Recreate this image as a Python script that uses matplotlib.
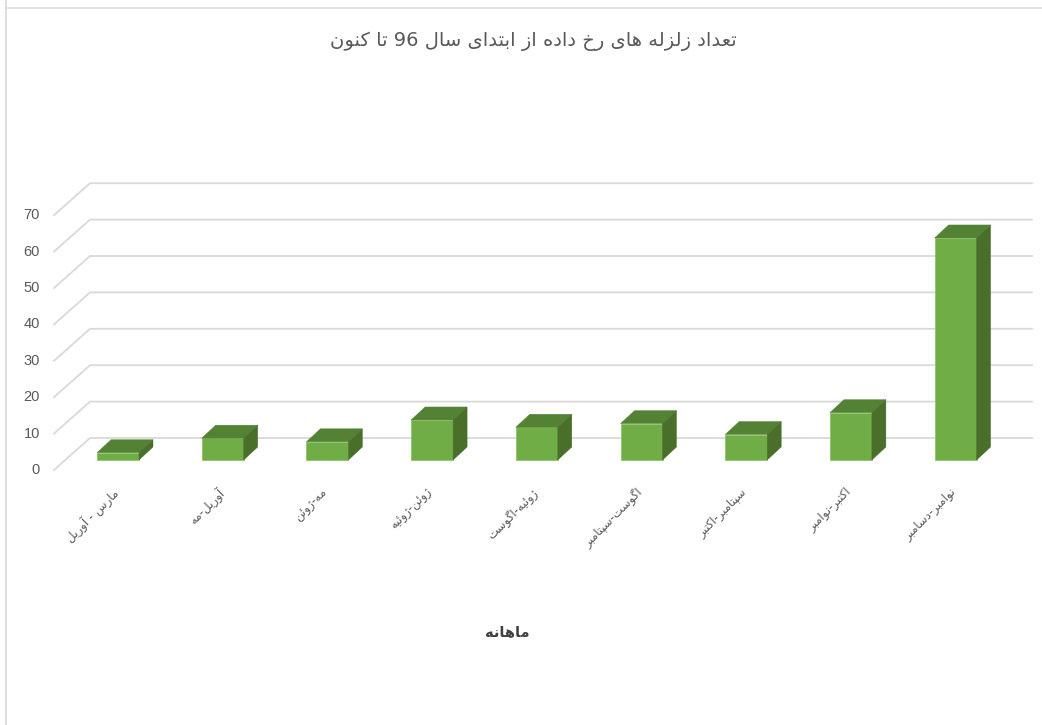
import matplotlib
matplotlib.use('Agg')
import matplotlib.pyplot as plt
from matplotlib.patches import Polygon
import re

title = 'تعداد زلزله های رخ داده از ابتدای سال 96 تا کنون'
xlabel = 'ماهانه'
months = ['مارس - آوریل', 'آوریل-مه', 'مه-ژوئن', 'ژوئن-ژوئیه', 'ژوئیه-اگوست',
          'اگوست-سپتامبر', 'سپتامبر-اکتبر', 'اکتبر-نوامبر', 'نوامبر-دسامبر']
counts = [2, 6, 5, 11, 9, 10, 7, 13, 61]
yticks = [0, 10, 20, 30, 40, 50, 60, 70]

# isolated, final, initial, medial
forms = {
    'ا': (0xFE8D, 0xFE8E), 'آ': (0xFE81, 0xFE82), 'د': (0xFEA9, 0xFEAA),
    'ر': (0xFEAD, 0xFEAE), 'ز': (0xFEAF, 0xFEB0), 'ژ': (0xFB8A, 0xFB8B),
    'و': (0xFEED, 0xFEEE),
    'ئ': (0xFE89, 0xFE8A, 0xFE8B, 0xFE8C), 'ب': (0xFE8F, 0xFE90, 0xFE91, 0xFE92),
    'پ': (0xFB56, 0xFB57, 0xFB58, 0xFB59), 'ت': (0xFE95, 0xFE96, 0xFE97, 0xFE98),
    'خ': (0xFEA5, 0xFEA6, 0xFEA7, 0xFEA8), 'س': (0xFEB1, 0xFEB2, 0xFEB3, 0xFEB4),
    'ع': (0xFEC9, 0xFECA, 0xFECB, 0xFECC), 'ک': (0xFB8E, 0xFB8F, 0xFB90, 0xFB91),
    'گ': (0xFB92, 0xFB93, 0xFB94, 0xFB95), 'ل': (0xFEDD, 0xFEDE, 0xFEDF, 0xFEE0),
    'م': (0xFEE1, 0xFEE2, 0xFEE3, 0xFEE4), 'ن': (0xFEE5, 0xFEE6, 0xFEE7, 0xFEE8),
    'ه': (0xFEE9, 0xFEEA, 0xFEEB, 0xFEEC), 'ی': (0xFBFC, 0xFBFD, 0xFBFE, 0xFBFF),
}

def shape(text):
    # matplotlib has no arabic shaping, so pick the joined forms and reverse
    out = ''
    for i, ch in enumerate(text):
        if ch not in forms:
            out += ch
            continue
        prev = text[i-1] if i > 0 else ''
        nxt = text[i+1] if i < len(text)-1 else ''
        join_prev = prev in forms and len(forms[prev]) == 4
        join_next = nxt in forms and len(forms[ch]) == 4
        if join_prev and join_next:
            k = 3
        elif join_next:
            k = 2
        elif join_prev:
            k = 1
        else:
            k = 0
        out += chr(forms[ch][k])
    out = out[::-1]
    return re.sub(r'\d+', lambda m: m.group(0)[::-1], out)

W, H = 1042, 725
fig = plt.figure(figsize=(W/100, H/100), dpi=100, facecolor='white')
plt.rcParams['font.family'] = ['DejaVu Sans']

# axes box in pixels, one category = 104.7 px and one count = 3.64 px
left, right, top, bottom = 54, 1032, 183, 470
ax = fig.add_axes([left/W, 1-bottom/H, (right-left)/W, (bottom-top)/H])
ax.set_xlim((left-118)/104.7, (right-118)/104.7)
ax.set_ylim((460-bottom)/3.64, (460-top)/3.64)
ax.axis('off')

x_front = ax.get_xlim()[0]
x_back = (90-118)/104.7
x_end = ax.get_xlim()[1]
front_off = -10/3.64
back_off = 22/3.64

for v in yticks:
    ax.plot([x_front, x_back, x_end], [v+front_off, v+back_off, v+back_off],
            color='#d9d9d9', linewidth=1.3, zorder=1, clip_on=False)
    ax.text(x_front-14/104.7, v+front_off, str(v), ha='right', va='center',
            fontsize=10.5, color='#595959', family='Liberation Sans')

bw = 42/104.7/2
dx = 14/104.7
dy = 13/3.64
for i, v in enumerate(counts):
    ax.add_patch(Polygon([(i-bw, 0), (i+bw, 0), (i+bw, v), (i-bw, v)],
                         facecolor='#70ad47', edgecolor='#8fc46a', linewidth=0.6, zorder=3))
    ax.add_patch(Polygon([(i-bw, v), (i+bw, v), (i+bw+dx, v+dy), (i-bw+dx, v+dy)],
                         facecolor='#548235', edgecolor='#548235', linewidth=0.3, zorder=3))
    ax.add_patch(Polygon([(i+bw, 0), (i+bw+dx, dy), (i+bw+dx, v+dy), (i+bw, v)],
                         facecolor='#4a6f2a', edgecolor='#4a6f2a', linewidth=0.3, zorder=3))
    ax.text(i-0.06, -7, shape(months[i]), rotation=45, rotation_mode='anchor',
            ha='right', va='top', fontsize=8.5, color='#595959')

fig.text(533/W, 1-41/H, shape(title), ha='center', va='center', fontsize=14, color='#595959')
fig.text(507/W, 1-632/H, shape(xlabel), ha='center', va='center', fontsize=10.5,
         fontweight='bold', color='#404040')

# frame of the pasted chart
fig.add_artist(plt.Line2D([6/W, 6/W], [0, 1], color='#d9d9d9', linewidth=1.2))
fig.add_artist(plt.Line2D([6/W, 1], [1-8/H, 1-8/H], color='#d9d9d9', linewidth=1.2))

plt.savefig('out.png', dpi=100)
